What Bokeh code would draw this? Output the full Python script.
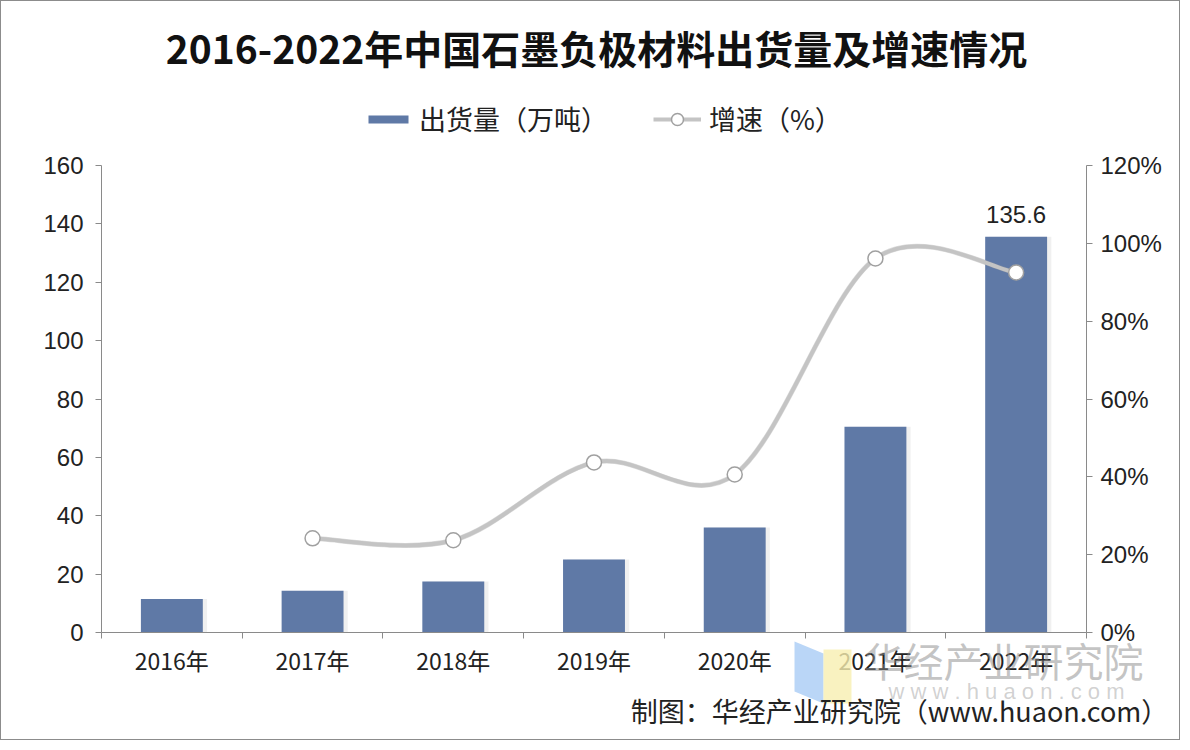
from bokeh.plotting import figure
from bokeh.models import (Range1d, LinearAxis, FixedTicker, PrintfTickFormatter, Legend,
                          LegendItem, Label, PolyAnnotation, ColumnDataSource)
from bokeh.embed import file_html
from bokeh.resources import INLINE

# ---------------- data ----------------
years = ["2016年", "2017年", "2018年", "2019年", "2020年", "2021年", "2022年"]
shipments = [11.5, 14.3, 17.5, 25.0, 36.0, 70.5, 135.6]          # 万吨
growth_years = ["2017年", "2018年", "2019年", "2020年", "2021年", "2022年"]
growth = [24.2, 23.7, 43.7, 40.6, 96.1, 92.5]                    # %
left_ticks = [0, 20, 40, 60, 80, 100, 120, 140, 160]
right_ticks = [0, 20, 40, 60, 80, 100, 120]

title_text = "2016-2022年中国石墨负极材料出货量及增速情况"
bar_name = "出货量（万吨）"
line_name = "增速（%）"
footer_text = "制图：华经产业研究院（www.huaon.com）"
wm_name = "华经产业研究院"
wm_url = "w w w . h u a o n . c o m"

# ---------------- layout ----------------
W, H = 1180, 740
AX_L, AX_R, AX_T, AX_B = 100, 1085, 164, 631   # canvas pixels of the axes box
CJK = "Noto Sans CJK SC"
LAT = "Liberation Sans"
BAR_COLOR = "#5f79a6"
AXIS_COLOR = "#8a8a8a"
TEXT_COLOR = "#222222"

n = len(years)
ymax = left_ticks[-1]
pmax = right_ticks[-1]
xpos = [i + 0.5 for i in range(n)]
gx = [years.index(y) + 0.5 for y in growth_years]

def dx(px):
    return (px - AX_L) / (AX_R - AX_L) * n

def dy(py):
    return (AX_B - py) / (AX_B - AX_T) * ymax

# the frame fills the whole canvas; the axes are pinned inside it
p = figure(width=W, height=H, output_backend="svg", toolbar_location=None,
           title_location=None,
           x_range=Range1d(dx(0), dx(W)), y_range=Range1d(dy(H), dy(0)),
           min_border=0, min_border_left=0, min_border_right=0,
           min_border_top=0, min_border_bottom=0,
           background_fill_color="white", border_fill_color="white")
p.styles = {"border": "1px solid #8c8c8c"}
p.outline_line_color = None
p.xgrid.visible = False
p.ygrid.visible = False
p.extra_y_ranges = {"pct": Range1d(dy(H) * pmax / ymax, dy(0) * pmax / ymax)}

# x axis
xa = p.xaxis[0]
xa.fixed_location = 0
xa.bounds = (0, n)
xa.ticker = FixedTicker(ticks=xpos, minor_ticks=list(range(n + 1)))
xa.major_label_overrides = {x: y for x, y in zip(xpos, years)}
xa.major_tick_out = 0
xa.major_tick_in = 0
xa.minor_tick_out = 6
xa.minor_tick_in = 0
xa.minor_tick_line_color = AXIS_COLOR
xa.axis_line_color = AXIS_COLOR
xa.major_label_text_font = CJK
xa.major_label_text_font_size = "23px"
xa.major_label_text_color = TEXT_COLOR
xa.major_label_standoff = 4

# left axis
ya = p.yaxis[0]
ya.fixed_location = 0
ya.bounds = (0, ymax)
ya.ticker = FixedTicker(ticks=left_ticks)
ya.minor_tick_line_color = None
ya.major_tick_out = 6
ya.major_tick_in = 0
ya.major_tick_line_color = AXIS_COLOR
ya.axis_line_color = AXIS_COLOR
ya.major_label_text_font = LAT
ya.major_label_text_font_size = "24px"
ya.major_label_text_color = TEXT_COLOR
ya.major_label_standoff = 12

# right axis
ra = LinearAxis(y_range_name="pct", ticker=FixedTicker(ticks=right_ticks),
                formatter=PrintfTickFormatter(format="%d%%"))
ra.fixed_location = n
ra.bounds = (0, pmax)
ra.minor_tick_line_color = None
ra.major_tick_out = 6
ra.major_tick_in = 0
ra.major_tick_line_color = AXIS_COLOR
ra.axis_line_color = AXIS_COLOR
ra.major_label_text_font = LAT
ra.major_label_text_font_size = "24px"
ra.major_label_text_color = TEXT_COLOR
ra.major_label_standoff = 8
p.add_layout(ra, "right")

# bars (with a faint drop shadow like the reference)
bar_src = ColumnDataSource(dict(x=xpos, top=shipments))
shadow_src = ColumnDataSource(dict(x=[x + 0.03 for x in xpos], top=shipments))
p.vbar(x="x", top="top", width=0.44, source=shadow_src, fill_color="#808080",
       fill_alpha=0.12, line_color=None)
bars = p.vbar(x="x", top="top", width=0.44, source=bar_src,
              fill_color=BAR_COLOR, line_color=None)

# smooth growth curve (Catmull-Rom -> cubic Bezier through the data points)
m = len(growth)
bz = dict(x0=[], y0=[], x1=[], y1=[], cx0=[], cy0=[], cx1=[], cy1=[])
for i in range(m - 1):
    p0 = (gx[max(i - 1, 0)], growth[max(i - 1, 0)])
    p1 = (gx[i], growth[i])
    p2 = (gx[i + 1], growth[i + 1])
    p3 = (gx[min(i + 2, m - 1)], growth[min(i + 2, m - 1)])
    bz["x0"].append(p1[0]); bz["y0"].append(p1[1])
    bz["x1"].append(p2[0]); bz["y1"].append(p2[1])
    bz["cx0"].append(p1[0] + (p2[0] - p0[0]) / 6); bz["cy0"].append(p1[1] + (p2[1] - p0[1]) / 6)
    bz["cx1"].append(p2[0] - (p3[0] - p1[0]) / 6); bz["cy1"].append(p2[1] - (p3[1] - p1[1]) / 6)
bz_src = ColumnDataSource(bz)
p.bezier(x0="x0", y0="y0", x1="x1", y1="y1", cx0="cx0", cy0="cy0", cx1="cx1", cy1="cy1",
         source=bz_src, y_range_name="pct", line_color="#9a9a9a", line_width=5, line_alpha=0.35)
curve = p.bezier(x0="x0", y0="y0", x1="x1", y1="y1", cx0="cx0", cy0="cy0", cx1="cx1", cy1="cy1",
                 source=bz_src, y_range_name="pct", line_color="#c4c4c4", line_width=4)
pts = p.scatter(x=gx, y=growth, y_range_name="pct", marker="circle", size=15,
                fill_color="white", line_color="#a0a0a0", line_width=1.5)

# data label on the last bar
p.add_layout(Label(x=xpos[-1], y=shipments[-1], text=f"{shipments[-1]}", y_offset=14,
                   text_align="center", text_baseline="bottom", text_font=LAT,
                   text_font_size="24px", text_color=TEXT_COLOR))

# legends (location = bottom-left corner, pixels from the frame's bottom-left)
LEG_H = 32
leg_common = dict(orientation="horizontal", padding=0, margin=0, spacing=0,
                  border_line_alpha=0, background_fill_alpha=0,
                  label_text_font=CJK, label_text_font_size="27px",
                  label_text_color=TEXT_COLOR, label_height=LEG_H)
leg1 = Legend(items=[LegendItem(label=bar_name, renderers=[bars])],
              location=(362, H - (121 + LEG_H // 2)), glyph_width=50, glyph_height=10,
              label_standoff=6, **leg_common)
leg2 = Legend(items=[LegendItem(label=line_name, renderers=[curve, pts])],
              location=(652, H - (121 + LEG_H // 2)), glyph_width=48, glyph_height=30,
              label_standoff=8, **leg_common)
p.add_layout(leg1)
p.add_layout(leg2)

# title
p.add_layout(Label(x=dx(595), y=dy(45), text=title_text, text_align="center",
                   text_baseline="middle", text_font=CJK, text_font_style="bold",
                   text_font_size="39px", text_color="#111111"))

# watermark
p.add_layout(PolyAnnotation(xs=[dx(793), dx(822), dx(822), dx(793)],
                            ys=[dy(640), dy(652), dy(702), dy(690)],
                            fill_color="#a9ccf5", fill_alpha=0.8, line_color=None))
p.add_layout(PolyAnnotation(xs=[dx(822), dx(850), dx(850), dx(822)],
                            ys=[dy(648), dy(648), dy(702), dy(702)],
                            fill_color="#f7efb0", fill_alpha=0.8, line_color=None))
p.add_layout(Label(x=dx(1002), y=dy(658), text=wm_name, text_align="center",
                   text_baseline="middle", text_font=CJK, text_font_size="40px",
                   text_color="#8a8a8a", text_alpha=0.5))
p.add_layout(Label(x=dx(1005), y=dy(690), text=wm_url, text_align="center",
                   text_baseline="middle", text_font=LAT, text_font_size="22px",
                   text_color="#9a9a9a", text_alpha=0.45))

# footer
p.add_layout(Label(x=dx(898), y=dy(709), text=footer_text, text_align="center",
                   text_baseline="middle", text_font=CJK, text_font_size="27px",
                   text_color=TEXT_COLOR))

open("out.html", "w").write(file_html(p, INLINE))
